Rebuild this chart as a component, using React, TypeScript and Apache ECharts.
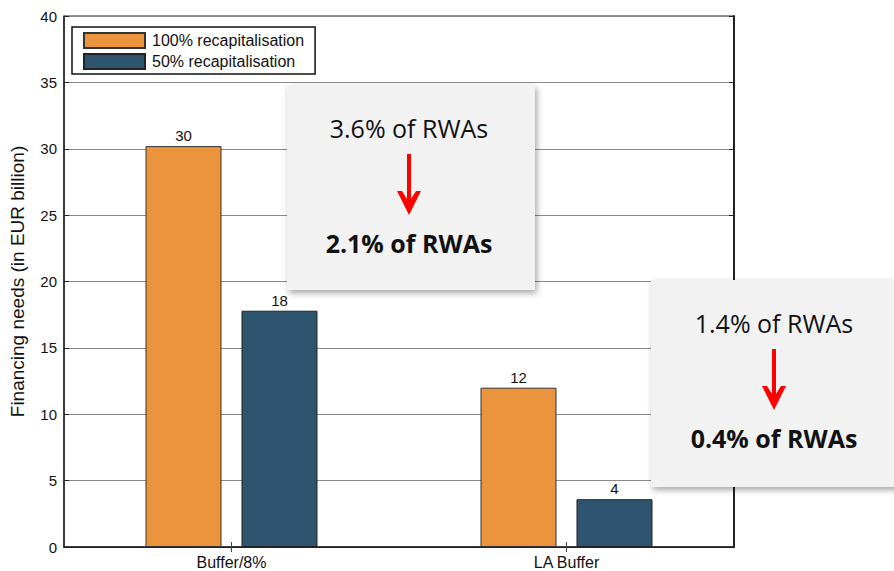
import React, { useEffect, useRef } from "react";
import * as echarts from "echarts";

const categories = ["Buffer/8%", "LA Buffer"];
const seriesNames = ["100% recapitalisation", "50% recapitalisation"];
const full = [30.2, 12.0];
const half = [17.8, 3.6];
const yTicks = { min: 0, max: 40, interval: 5 };
const boxTexts = [
  ["3.6% of RWAs", "2.1% of RWAs"],
  ["1.4% of RWAs", "0.4% of RWAs"],
];

function annotation(x: number, y: number, w: number, h: number, cx: number, top: string, bottom: string) {
  return {
    type: "group",
    children: [
      {
        type: "rect",
        shape: { x, y, width: w, height: h },
        style: {
          fill: "#f2f2f2",
          shadowBlur: 6,
          shadowOffsetX: 2,
          shadowOffsetY: 3,
          shadowColor: "rgba(0,0,0,0.35)",
        },
        z: 100,
      },
      {
        type: "text",
        x: cx,
        y: y + 43,
        style: {
          text: top,
          fill: "#111",
          font: "25px 'Open Sans', sans-serif",
          align: "center",
          verticalAlign: "middle",
        },
        z: 101,
      },
      {
        type: "rect",
        shape: { x: cx - 2, y: y + 69, width: 4, height: 52 },
        style: { fill: "#ff0000" },
        z: 101,
      },
      {
        type: "polygon",
        shape: {
          points: [
            [cx - 12, y + 106],
            [cx - 7, y + 106],
            [cx, y + 117],
            [cx + 7, y + 106],
            [cx + 12, y + 106],
            [cx, y + 130],
          ],
        },
        style: { fill: "#ff0000" },
        z: 101,
      },
      {
        type: "text",
        x: cx,
        y: y + 158,
        style: {
          text: bottom,
          fill: "#111",
          font: "bold 25px 'Open Sans', sans-serif",
          align: "center",
          verticalAlign: "middle",
        },
        z: 101,
      },
    ],
  };
}

export default function App() {
  const ref = useRef<HTMLDivElement>(null);
  useEffect(() => {
    if (!ref.current) return;
    const chart = echarts.init(ref.current, null, { renderer: "svg" });
    const font = "'Liberation Sans', Arial, sans-serif";
    const barLabel = {
      show: true,
      position: "top",
      distance: 3,
      color: "#111",
      fontSize: 15,
      fontFamily: font,
      formatter: (p: any) => String(Math.round(p.value)),
    };
    chart.setOption({
      animation: false,
      backgroundColor: "#fff",
      grid: {
        left: 62,
        top: 16,
        width: 672,
        height: 531,
        show: true,
        borderColor: "#222",
        borderWidth: 1,
      },
      legend: {
        orient: "vertical",
        left: 72,
        top: 27,
        padding: [5, 11, 4, 11],
        itemGap: 4,
        itemWidth: 61,
        itemHeight: 15,
        borderColor: "#111",
        borderWidth: 1.5,
        backgroundColor: "#fff",
        textStyle: { fontFamily: font, fontSize: 16, color: "#111", padding: [0, 0, 0, 2] },
        data: seriesNames.map((n) => ({ name: n, icon: "rect" })),
      },
      xAxis: [
        {
          type: "category",
          data: categories,
          axisLine: { show: true, lineStyle: { color: "#222", width: 1.5 } },
          axisTick: { show: true, inside: true, alignWithLabel: true, length: 5, lineStyle: { color: "#444" } },
          axisLabel: { fontFamily: font, fontSize: 16, color: "#111", margin: 7 },
          splitLine: { show: false },
        },
        {
          type: "category",
          data: categories,
          position: "top",
          axisLine: { show: true, lineStyle: { color: "#222" } },
          axisTick: { show: true, inside: true, alignWithLabel: true, length: 5, lineStyle: { color: "#444" } },
          axisLabel: { show: false },
        },
      ],
      yAxis: [
        {
          type: "value",
          min: yTicks.min,
          max: yTicks.max,
          interval: yTicks.interval,
          name: "Financing needs (in EUR billion)",
          nameLocation: "middle",
          nameGap: 37,
          nameTextStyle: { fontFamily: font, fontSize: 19, color: "#111" },
          axisLine: { show: true, lineStyle: { color: "#222", width: 1.5 } },
          axisTick: { show: true, inside: true, length: 5, lineStyle: { color: "#222" } },
          axisLabel: { fontFamily: font, fontSize: 15, color: "#111", margin: 7 },
          splitLine: { show: true, lineStyle: { color: "#8a8a8a", width: 1 } },
        },
        {
          type: "value",
          min: yTicks.min,
          max: yTicks.max,
          interval: yTicks.interval,
          position: "right",
          axisLine: { show: true, lineStyle: { color: "#222", width: 2 } },
          axisTick: { show: true, inside: true, length: 5, lineStyle: { color: "#222" } },
          axisLabel: { show: false },
          splitLine: { show: false },
        },
      ],
      series: [
        {
          name: seriesNames[0],
          type: "bar",
          data: full,
          barWidth: 76,
          barGap: "26.3%",
          itemStyle: { color: "#ea943e", borderColor: "#333", borderWidth: 1 },
          label: barLabel,
        },
        {
          name: seriesNames[1],
          type: "bar",
          data: half,
          barWidth: 76,
          barGap: "26.3%",
          itemStyle: { color: "#2e5470", borderColor: "#222", borderWidth: 1 },
          label: barLabel,
        },
      ],
      graphic: [
        annotation(287, 85, 248, 205, 409, boxTexts[0][0], boxTexts[0][1]),
        annotation(651, 280, 260, 207, 774, boxTexts[1][0], boxTexts[1][1]),
      ],
    });
    return () => chart.dispose();
  }, []);
  return (
    <div
      ref={ref}
      style={{ position: "fixed", left: 0, top: 0, width: 894, height: 571 }}
    />
  );
}
